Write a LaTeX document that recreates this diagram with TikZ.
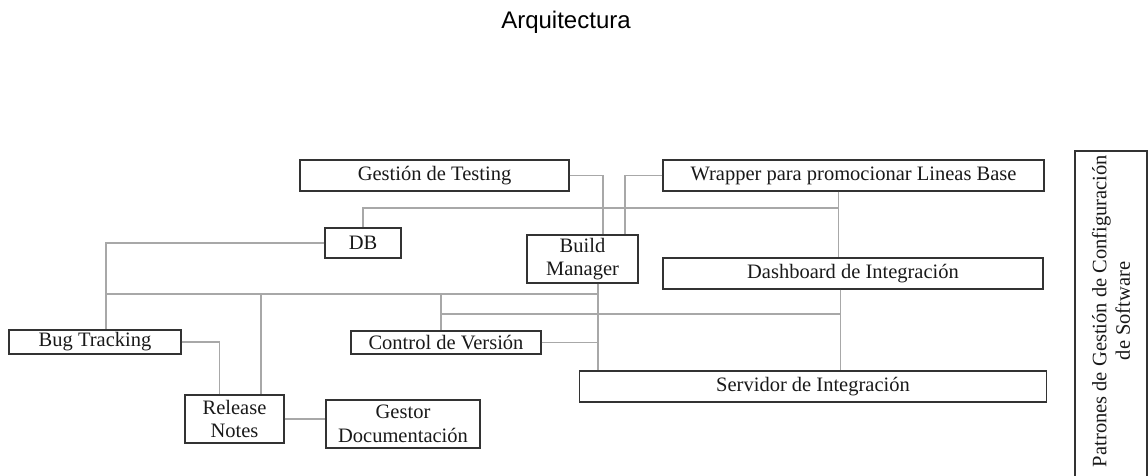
\documentclass[tikz,border=0pt]{standalone}
\usepackage{fontspec}
\setmainfont{Liberation Serif}
\newfontfamily\titlefont{Liberation Sans}
\definecolor{boxline}{HTML}{333333}
\definecolor{connline}{HTML}{A8A8A8}
\begin{document}
\begin{tikzpicture}[x=1pt,y=-1pt,
  box/.style={draw=boxline, line width=1.3pt, inner sep=0pt, align=center,
    font=\fontsize{20.5}{23.5}\selectfont, text=black!90},
  conn/.style={draw=connline, line width=1.3pt}]
\useasboundingbox (0,0) rectangle (1148,475);
\node[font=\titlefont\fontsize{24}{28}\selectfont, anchor=base] (title) at (566,28) {Arquitectura};

\node[box, minimum width=269pt, minimum height=31pt] (gt) at (434.5,175.5) {Gestión de Testing};
\node[box, minimum width=381pt, minimum height=31pt] (wr) at (853.5,175.5) {Wrapper para promocionar Lineas Base};
\node[box, minimum width=76pt, minimum height=30pt] (db) at (363,243) {DB};
\node[box, minimum width=111pt, minimum height=48pt] (bm) at (582.5,259) {Build\\Manager};
\node[box, minimum width=380pt, minimum height=31pt] (da) at (853,273.5) {Dashboard de Integración};
\node[box, minimum width=172pt, minimum height=24pt] (bt) at (95,342) {Bug Tracking};
\node[box, minimum width=190pt, minimum height=23pt] (cv) at (446,342.5) {Control de Versión};
\node[box, minimum width=467pt, minimum height=31pt] (sv) at (813,386.5) {Servidor de Integración};
\node[box, minimum width=99pt, minimum height=48pt] (rn) at (234.5,419) {Release\\Notes};
\node[box, minimum width=154pt, minimum height=48pt] (gd) at (403,424) {Gestor\\Documentación};
\node[box, minimum width=72pt, minimum height=334pt] (pt) at (1111,318) {};
\node[align=center, rotate=90, font=\fontsize{20.5}{23.5}\selectfont, text=black!90] (ptt) at (1111,311) {Patrones de Gestión de Configuración\\de Software};

% junction coordinates
\coordinate (j1) at (838.5,208);
\coordinate (b1) at (106,294);
\coordinate (b2) at (598,294);
\coordinate (b3) at (261,294);
\coordinate (b4) at (441,294);
\coordinate (c1) at (441,314);
\coordinate (c2) at (840.5,314);

\draw[conn] (gt.east) -| ([xshift=20.5pt]bm.north);
\draw[conn] (wr.west) -| ([xshift=42.5pt]bm.north);
\draw[conn] ([xshift=-15pt]wr.south) -- ([xshift=-14.5pt]da.north);
\draw[conn] (j1) -| (db.north);
\draw[conn] (db.west) -| ([xshift=11pt]bt.north);
\draw[conn] (b1) -- (b2);
\draw[conn] ([xshift=15.5pt]bm.south) -- (b2 |- sv.north);
\draw[conn] (b3) -- (b3 |- rn.north);
\draw[conn] (b4) -- (b4 |- cv.north);
\draw[conn] (c1) -- (c2);
\draw[conn] ([xshift=-12.5pt]da.south) -- (c2 |- sv.north);
\draw[conn] (cv.east) -- (cv.east -| b2);
\draw[conn] (bt.east) -| ([xshift=-15pt]rn.north);
\draw[conn] (rn.east) -- (rn.east -| gd.west);
\end{tikzpicture}
\end{document}
